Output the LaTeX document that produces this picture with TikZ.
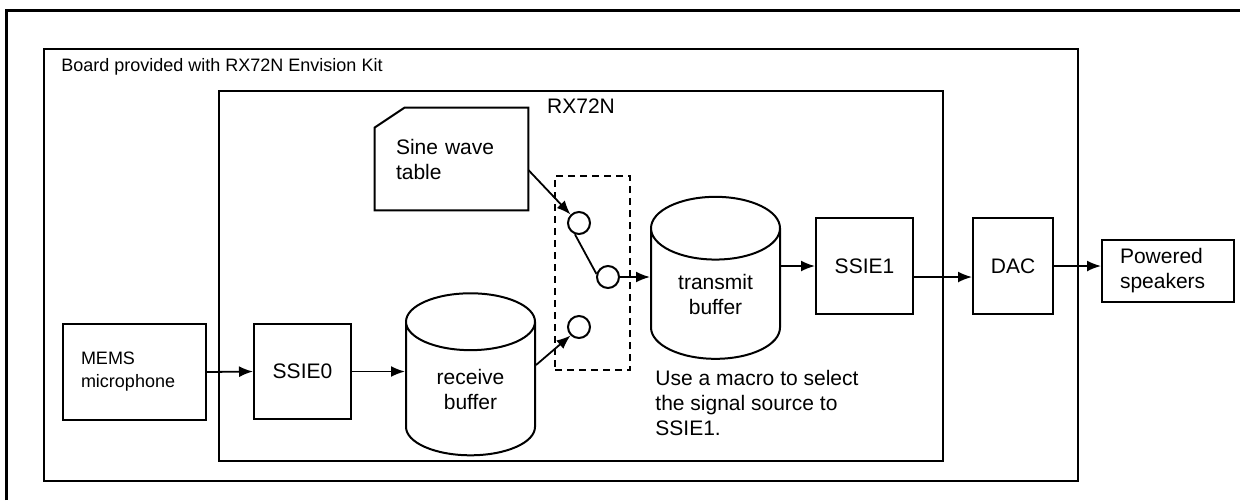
\documentclass[tikz,border=0pt]{standalone}
\usepackage{fontspec}
\setmainfont{Liberation Sans}
\usetikzlibrary{arrows.meta,shapes.geometric,positioning}

\tikzset{
  blk/.style={draw, line width=1pt, inner sep=0pt, align=center},
  frame/.style={draw, line width=1pt, inner sep=0pt},
  can/.style={cylinder, shape border rotate=90, draw, line width=1pt, aspect=0.84,
    minimum width=64.5pt, minimum height=81pt, inner sep=0pt, align=center},
  sel/.style={circle, draw, line width=1pt, minimum size=11pt, inner sep=0pt},
  conn/.style={->, line width=0.9pt},
  small/.style={font=\fontsize{9}{11.5}\selectfont},
  every node/.style={font=\fontsize{10.5}{12.5}\selectfont},
}

\begin{document}
\begin{tikzpicture}[x=0.5pt,y=-0.5pt,>={Latex[length=7pt,width=5.5pt]},line join=miter]
\useasboundingbox (0,0) rectangle (1240,500);
%%
  \draw [line width=1.4pt] (6.5,500) -- (6.5,10.5) -- (1240,10.5);
  % Node: board
  \node [frame, minimum width=517pt, minimum height=216pt] (board) at (561,265) {};
  \node [small, anchor=base west, inner sep=0pt] (boardlbl) at (61,71) {Board provided with RX72N Envision Kit};
  % Node: mcu
  \node [frame, minimum width=362pt, minimum height=185.25pt] (mcu) at (581,275.75) {};
  \node [anchor=base, inner sep=0pt] (mculbl) at (581,113) {RX72N};
  % Node: mems
  \node [blk, small, minimum width=71.5pt, minimum height=48pt, text width=53.5pt, align=left] (mems) at (134.5,372) {MEMS\\microphone};
  % Node: ssie0
  \node [blk, minimum width=48.5pt, minimum height=47.5pt] (ssie0) at (302.5,371.5) {SSIE0};
  % Node: rbuf
  \node [can] (rbuf) at (470.5,389) {receive\\buffer};
  % Node: sine
  \node [inner sep=0pt, minimum width=76.5pt, minimum height=51pt, text width=55.5pt, align=left] (sine) at (451.5,159) {Sine wave\\table};
  \draw [line width=1pt] ([yshift=-10pt]sine.north west) -- ([xshift=15pt]sine.north west)
    -- (sine.north east) -- (sine.south east) -- (sine.south west) -- cycle;
  % Node: selbox
  \node [draw, line width=1pt, dash pattern=on 3.5pt off 2.5pt, minimum width=37.5pt, minimum height=97pt] (selbox) at (592.5,273) {};
  \node [sel] (c1) at (579,223) {};
  \node [sel] (c2) at (608,277) {};
  \node [sel] (c3) at (579,327) {};
  % Node: tbuf
  \node [can] (tbuf) at (715.5,294) {transmit\\buffer};
  \node [anchor=west, inner sep=0pt, align=left] (note) at (655,403) {Use a macro to select\\the signal source to\\SSIE1.};
  % Node: ssie1
  \node [blk, minimum width=48.5pt, minimum height=48pt] (ssie1) at (864.5,266) {SSIE1};
  % Node: dac
  \node [blk, minimum width=40pt, minimum height=48pt] (dac) at (1013,266) {DAC};
  % Node: spk
  \node [blk, minimum width=66pt, minimum height=31pt, text width=48pt, align=left] (spk) at (1168,271) {Powered\\speakers};
  % Edge: mems -> ssie0
  \draw [conn] (mems.east) -- (ssie0.west);
  % Edge: ssie0 -> rbuf
  \draw [conn] (ssie0.east) -- (ssie0.east -| rbuf.west);
  % Edge: sine -> c1
  \draw [conn] ([yshift=-5.5pt]sine.east) -- (c1.135);
  % Edge: rbuf -> c3
  \draw [conn] ([yshift=12pt]rbuf.east) -- (c3.225);
  % Edge: c1 -- c2
  \draw [line width=0.9pt] (c1.250) -- (c2.165);
  % Edge: c2 -> tbuf
  \draw [conn] (c2.east) -- (c2.east -| tbuf.west);
  % Edge: tbuf -> ssie1
  \draw [conn] (ssie1.west -| tbuf.east) -- (ssie1.west);
  % Edge: ssie1 -> dac
  \draw [conn] ([yshift=-5.5pt]ssie1.east) -- ([yshift=-5.5pt]dac.west);
  % Edge: dac -> spk
  \draw [conn] (dac.east) -- (dac.east -| spk.west);
%
\end{tikzpicture}
\end{document}
